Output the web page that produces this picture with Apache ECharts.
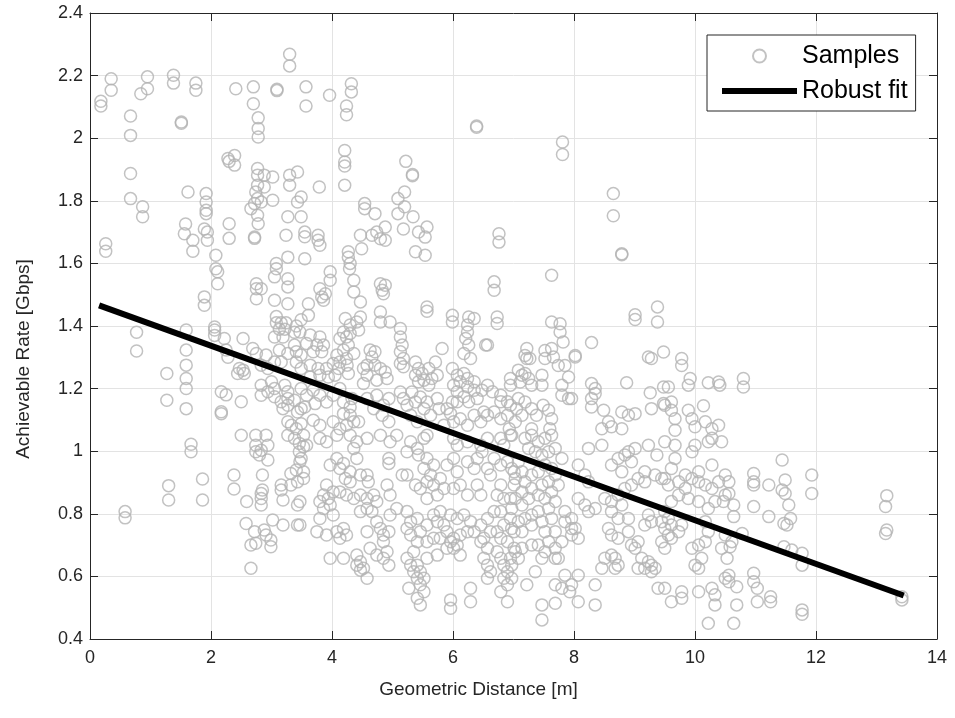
<!DOCTYPE html>
<html>
<head>
<meta charset="utf-8">
<script src="https://cdn.jsdelivr.net/npm/echarts@6/dist/echarts.min.js"></script>
<style>html,body{margin:0;padding:0;background:#fff}#chart{width:955px;height:718px}</style>
</head>
<body>
<div id="chart"></div>
<script>
// Samples: [distance (m), achievable rate (Gbps)]
const samples = [
[0.18,2.118],[0.18,2.103],[0.35,2.19],[0.35,2.153],[0.95,2.196],[0.95,2.158],[0.84,2.142],[1.38,2.201],[1.38,2.176],[1.75,2.176],[1.75,2.153],[0.67,2.071],[0.67,2.009],[1.51,2.052],[1.51,2.048],[2.41,2.158],[2.70,2.164],[2.70,2.11],[2.78,2.065],[2.78,2.031],[2.78,2.004],[3.09,2.156],[3.09,2.152],[3.30,2.268],[3.30,2.231],[3.57,2.164],[3.57,2.103],[0.67,1.887],[0.67,1.807],[0.87,1.781],[0.87,1.749],[1.62,1.828],[1.92,1.823],[1.92,1.796],[1.92,1.77],[1.92,1.759],[2.28,1.935],[2.39,1.945],[2.39,1.914],[2.30,1.926],
[2.77,1.903],[2.77,1.882],[2.88,1.882],[3.02,1.876],[2.77,1.85],[2.88,1.844],[2.74,1.828],[2.77,1.807],[2.72,1.791],[2.83,1.796],[3.02,1.802],[3.30,1.882],[3.30,1.85],[3.43,1.892],[3.43,1.796],[3.49,1.812],[3.27,1.749],[3.49,1.749],[2.66,1.775],[2.77,1.754],
[3.96,2.137],[4.32,2.174],[4.32,2.148],[4.24,2.103],[4.24,2.075],[6.39,2.039],[6.39,2.035],[4.21,1.961],[4.21,1.924],[4.21,1.911],[4.21,1.85],[5.22,1.926],[5.33,1.884],[5.33,1.88],[3.79,1.844],[4.54,1.791],[4.54,1.775],[4.71,1.759],[5.20,1.828],[5.09,1.807],[5.20,1.781],[5.09,1.759],[5.34,1.749],
[7.81,1.988],[7.81,1.948],[8.65,1.823],[8.65,1.752],
[1.56,1.695],[1.70,1.674],[1.70,1.639],[1.58,1.726],[1.89,1.71],[1.94,1.70],[1.94,1.674],[2.30,1.727],[2.30,1.68],[2.72,1.684],[2.72,1.68],[2.78,1.727],[3.24,1.69],[0.26,1.663],[0.26,1.639],[2.08,1.626],[2.08,1.583],[2.11,1.573],[2.11,1.535],[3.08,1.60],[3.08,1.583],[3.05,1.557],[3.27,1.62],[3.27,1.551],[3.27,1.525],[1.89,1.493],[1.89,1.466],[2.75,1.535],[2.75,1.519],[2.83,1.519],[2.75,1.487],[3.05,1.482],[3.27,1.471],
[3.08,1.43],[3.08,1.41],[3.16,1.41],[3.13,1.39],[3.22,1.39],[3.24,1.41],[3.05,1.365],[3.19,1.365],[3.38,1.38],[3.41,1.40],[3.49,1.42],
[2.06,1.397],[2.06,1.387],[2.06,1.37],[2.22,1.36],[2.53,1.36],[2.25,1.323],[2.28,1.30],
[1.59,1.387],[0.77,1.38],[0.77,1.32],
[1.59,1.323],[1.59,1.275],[1.59,1.232],[1.59,1.20],[1.59,1.136],[1.27,1.248],[1.27,1.163],
[2.17,1.19],[2.25,1.18],[2.5,1.158],[2.17,1.126],[2.17,1.12],
[2.47,1.264],[2.53,1.259],[2.55,1.248],[2.44,1.248],
[2.69,1.328],[2.75,1.312],[2.91,1.307],[2.83,1.275],[2.94,1.264],[3.05,1.285],[3.16,1.285],[3.13,1.323],[3.27,1.312],[3.38,1.339],[3.41,1.318],[3.41,1.285],[3.49,1.307],[3.49,1.264],
[2.83,1.211],[3.0,1.222],[3.05,1.20],[3.22,1.211],[3.27,1.19],[3.27,1.168],[3.27,1.147],[3.19,1.136],[3.05,1.174],[2.83,1.179],[2.94,1.19],[3.49,1.20],[3.38,1.163],[3.16,1.158],
[3.27,1.094],[3.33,1.083],[3.41,1.072],[3.49,1.088],[3.49,1.136],[3.43,1.125],
[3.55,1.70],[3.55,1.685],[3.77,1.69],[3.77,1.674],[3.80,1.658],[3.55,1.615],
[4.47,1.69],[4.66,1.69],[4.74,1.70],[4.80,1.679],[4.88,1.674],[4.88,1.716],[5.18,1.71],
[5.43,1.70],[5.54,1.684],[5.57,1.716],[5.38,1.637],[5.54,1.626],
[4.27,1.637],[4.27,1.62],[4.30,1.60],[4.29,1.583],[4.49,1.647],
[6.76,1.695],[6.76,1.668],[3.97,1.573],[3.97,1.546],
[3.80,1.519],[3.83,1.493],[3.89,1.503],[3.86,1.482],[3.61,1.471],[3.61,1.434],
[4.36,1.546],[4.36,1.509],[4.47,1.477],
[4.80,1.535],[4.83,1.514],[4.88,1.53],[4.85,1.503],
[6.68,1.541],[6.68,1.514],[5.57,1.461],[5.57,1.447],
[5.99,1.434],[5.99,1.413],[6.26,1.429],[6.35,1.424],[6.24,1.403],[6.73,1.429],[6.73,1.408],
[4.80,1.445],[4.80,1.413],[4.96,1.413],[5.13,1.392],[4.22,1.424],[4.30,1.403],[4.41,1.413],[4.47,1.429],[4.19,1.381],[4.30,1.376],[4.44,1.387],[4.24,1.365],
[3.47,1.381],[3.64,1.371],[3.80,1.365],[3.86,1.339],[3.75,1.339],[3.58,1.344],[3.69,1.318],[3.83,1.318],
[4.13,1.36],[4.27,1.339],[4.19,1.323],[4.36,1.312],[4.08,1.307],[4.24,1.296],
[5.13,1.365],[5.16,1.339],[5.13,1.318],[5.18,1.296],[5.13,1.28],
[4.63,1.323],[4.71,1.318],[4.66,1.301],[4.58,1.275],[4.71,1.275],[5.82,1.328],
[6.24,1.381],[6.21,1.36],[6.26,1.339],[6.18,1.312],[6.29,1.296],[6.54,1.339],[6.57,1.339],
[3.64,1.275],[3.77,1.264],[3.91,1.264],[4.02,1.28],[4.13,1.285],[4.11,1.264],[4.25,1.275],[3.94,1.237],[3.80,1.243],[3.64,1.237],[4.05,1.243],[4.27,1.248],
[4.52,1.264],[4.58,1.243],[4.80,1.264],[4.88,1.253],[4.74,1.227],[4.91,1.232],[4.52,1.216],[5.18,1.27],
[5.38,1.285],[5.43,1.264],[5.49,1.248],[5.60,1.264],[5.71,1.285],[5.38,1.243],[5.52,1.227],[5.65,1.232],[5.74,1.243],[5.60,1.211],[5.43,1.222],
[5.99,1.264],[6.07,1.243],[6.18,1.248],[6.24,1.232],[6.35,1.222],[6.12,1.222],[6.01,1.211],[6.24,1.206],[6.07,1.19],[6.35,1.195],[6.18,1.174],[6.26,1.158],[6.07,1.158],[6.40,1.168],
[6.95,1.232],[6.95,1.211],[6.79,1.179],[6.90,1.158],[6.65,1.19],[6.57,1.211],[6.48,1.195],[6.79,1.158],
[3.58,1.179],[3.69,1.195],[3.80,1.179],[3.72,1.152],[3.55,1.141],[3.91,1.157],[4.02,1.179],[4.13,1.20],[4.19,1.157],[4.30,1.141],[4.33,1.168],[4.19,1.12],[4.30,1.115],[4.36,1.094],[4.24,1.083],[4.44,1.094],[4.13,1.072],[4.02,1.094],[3.69,1.099],[3.80,1.083],[4.58,1.168],[4.74,1.179],[4.85,1.147],[4.94,1.168],[4.69,1.136],[4.83,1.115],[4.94,1.094],[5.13,1.189],[5.18,1.168],[5.24,1.147],[5.32,1.189],[5.38,1.157],[5.46,1.173],[5.57,1.157],[5.52,1.136],[5.30,1.115],[5.63,1.115],[5.41,1.094],[5.74,1.168],[5.77,1.136],[5.90,1.136],[5.99,1.157],[5.96,1.12],[6.01,1.094],[5.85,1.083],[6.12,1.104],[6.24,1.083],[6.35,1.115],[6.46,1.094],[6.51,1.125],[6.57,1.115],[6.68,1.125],[6.79,1.104],[6.95,1.147],[6.90,1.115],[6.93,1.072],
[8.79,1.631],[8.79,1.628],[7.63,1.562],[9.01,1.436],[9.01,1.421],[9.38,1.461],[9.38,1.413],[7.63,1.413],[7.77,1.407],[7.77,1.381],[7.82,1.349],[8.29,1.347],
[7.22,1.328],[7.19,1.306],[7.22,1.296],[7.27,1.296],[7.52,1.322],[7.63,1.328],[7.66,1.301],[7.52,1.296],[7.74,1.274],[7.85,1.274],[8.02,1.306],[8.02,1.301],
[9.23,1.301],[9.28,1.296],[9.48,1.317],[9.78,1.296],[9.78,1.274],
[7.08,1.259],[7.14,1.243],[7.19,1.248],[7.25,1.232],[7.11,1.221],[7.47,1.243],[7.30,1.211],[7.47,1.211],[7.80,1.211],[7.91,1.237],[7.80,1.179],[7.91,1.168],[7.96,1.168],[8.87,1.219],[8.29,1.216],[8.35,1.20],[8.35,1.184],[9.26,1.187],[9.48,1.205],[9.56,1.205],[9.48,1.152],[9.61,1.157],[9.92,1.232],[9.89,1.211],[10.22,1.219],[10.39,1.221],[10.41,1.211],[10.14,1.145],
[7.08,1.168],[7.19,1.157],[7.05,1.136],[7.14,1.115],[7.03,1.094],[7.30,1.136],[7.38,1.115],[7.49,1.147],[7.58,1.131],[7.63,1.104],[7.60,1.072],[7.30,1.072],[8.29,1.141],[8.49,1.131],[8.29,1.168],[8.79,1.125],[8.90,1.115],[9.01,1.120],[8.57,1.094],[8.62,1.078],[8.46,1.072],[8.79,1.072],[9.28,1.136],[9.50,1.147],[9.61,1.131],[9.67,1.104],[9.67,1.067],[9.89,1.131],[9.95,1.104],[10.0,1.078],[10.17,1.094],[10.28,1.072],[10.39,1.083],
[10.80,1.232],[10.80,1.205],
[1.67,1.022],[1.67,0.998],[1.30,0.890],[1.30,0.844],[1.86,0.911],[1.86,0.844],[0.58,0.807],[0.58,0.787],[2.38,0.924],[2.38,0.879],[2.59,0.839],[2.85,0.924],[2.83,0.865],[2.85,0.876],[2.83,0.849],[2.83,0.828],
[3.16,0.892],[3.16,0.876],[3.19,0.844],[3.32,0.892],[3.32,0.929],[3.41,0.940],[3.43,0.902],[3.43,0.828],
[2.50,1.051],[2.74,1.051],[2.91,1.051],[2.74,1.019],[2.74,0.998],[2.80,0.988],[2.94,1.019],[2.94,0.972],[2.83,1.003],
[3.27,1.051],[3.38,1.041],[3.46,1.025],[3.46,0.998],[3.49,0.977],
[2.58,0.769],[2.72,0.743],[2.88,0.748],[2.91,0.732],[3.02,0.780],[3.19,0.764],[2.66,0.700],[2.74,0.706],[2.99,0.716],[2.99,0.695],[3.43,0.764],[2.66,0.626],
[3.53,1.051],[3.53,1.014],[3.47,0.966],[3.53,0.934],[3.53,0.913],[3.47,0.839],[3.47,0.764],
[3.58,1.019],[3.80,1.041],[3.91,1.030],[4.08,1.051],[4.30,1.051],[4.41,1.030],[4.58,1.041],[4.36,1.009],[4.80,1.051],[4.96,1.030],[5.07,1.051],[5.30,1.030],[5.41,1.009],[5.52,1.041],[5.57,1.051],[5.24,0.998],[6.01,1.041],[6.07,1.019],[6.24,1.030],[6.46,1.019],[6.57,1.041],[6.79,1.041],[6.84,1.019],[6.95,1.051],
[3.97,0.956],[4.08,0.977],[4.13,0.945],[4.19,0.961],[4.30,0.934],[4.22,0.913],[4.41,0.977],[4.47,0.924],[4.58,0.924],[4.60,0.902],[4.30,0.902],[3.91,0.892],[3.86,0.860],[3.94,0.849],[4.02,0.870],[4.13,0.870],[4.24,0.860],[4.36,0.849],[4.47,0.860],[4.58,0.849],[4.69,0.860],[4.74,0.839],[4.91,0.892],[4.96,0.860],[4.94,0.977],[4.94,0.961],[5.16,0.924],[5.24,0.924],[5.38,0.892],[5.46,0.881],[5.57,0.902],[5.68,0.892],[5.52,0.945],[5.63,0.924],[5.79,0.913],[5.43,0.988],[5.57,0.977],[5.68,0.956],[5.90,0.956],[6.01,0.977],[6.07,0.934],[6.24,0.966],[6.35,0.945],[6.40,0.977],[6.48,0.998],[6.68,0.977],[6.57,0.945],[6.62,0.924],[6.79,0.956],[6.90,0.966],[7.01,0.934],[7.01,0.892],[6.79,0.892],[6.73,0.860],[6.84,0.849],[6.95,0.849],[6.01,0.881],[6.12,0.892],[6.24,0.860],[6.40,0.892],[6.46,0.860],[5.85,0.881],[5.74,0.860],[5.57,0.849],
[3.80,0.839],[3.86,0.817],[3.97,0.828],[4.02,0.796],[3.80,0.785],[3.75,0.743],[3.91,0.732],[4.08,0.743],[4.19,0.753],[4.13,0.722],[4.24,0.732],[4.47,0.807],[4.58,0.817],[4.66,0.807],[4.74,0.775],[4.58,0.743],[4.80,0.753],[4.85,0.732],[4.94,0.743],[4.96,0.796],[5.07,0.817],[5.24,0.807],[5.30,0.775],[5.24,0.753],[5.30,0.732],[5.41,0.785],[5.46,0.743],[5.57,0.764],[5.68,0.796],[5.79,0.807],[5.74,0.775],[5.85,0.764],[5.90,0.743],[5.79,0.722],[5.68,0.722],[5.57,0.711],[5.41,0.711],[5.96,0.796],[6.07,0.785],[6.18,0.796],[6.29,0.775],[6.24,0.743],[6.12,0.732],[6.01,0.722],[6.35,0.743],[6.46,0.764],[6.57,0.785],[6.62,0.743],[6.51,0.722],[6.73,0.743],[6.84,0.764],[6.95,0.785],[7.01,0.743],[6.79,0.722],[6.90,0.711],[6.68,0.807],[6.79,0.807],
[3.97,0.658],[4.19,0.658],[4.41,0.668],[4.47,0.647],[4.52,0.626],[4.58,0.594],[4.63,0.690],[4.74,0.668],[4.85,0.711],[4.85,0.658],[4.94,0.636],[4.91,0.679],[4.41,0.636],[4.47,0.62],[5.24,0.658],[5.35,0.679],[5.41,0.636],[5.30,0.636],[5.35,0.615],[5.46,0.615],[5.41,0.594],[5.52,0.594],[5.46,0.573],[5.52,0.551],[5.41,0.530],[5.46,0.509],[5.27,0.562],[5.57,0.658],[5.74,0.668],[5.90,0.690],[6.01,0.690],[6.07,0.700],[5.96,0.711],[6.46,0.711],[6.57,0.690],[6.51,0.658],[6.57,0.636],[6.62,0.615],[6.57,0.594],[6.73,0.679],[6.79,0.658],[6.84,0.636],[6.90,0.615],[6.84,0.594],[6.90,0.573],[6.79,0.551],[6.90,0.519],[6.95,0.658],[7.01,0.690],[6.29,0.562],[6.29,0.519],[5.96,0.525],[5.96,0.498],[6.12,0.668],
[6.97,1.051],[7.19,1.041],[7.30,1.051],[7.41,1.030],[7.52,1.041],[7.63,1.051],[7.25,1.009],[7.36,0.998],[7.47,0.988],[7.58,0.998],[7.69,1.009],[7.80,0.977],[7.08,0.966],[6.97,0.945],[7.14,0.934],[7.03,0.913],[7.19,0.902],[7.30,0.924],[7.41,0.934],[7.52,0.956],[7.63,0.945],[7.69,0.924],[7.58,0.902],[7.47,0.892],[7.30,0.881],[7.14,0.870],[7.03,0.849],[6.97,0.817],[7.14,0.828],[7.25,0.849],[7.41,0.860],[7.52,0.849],[7.63,0.870],[7.74,0.892],[7.69,0.839],[7.58,0.817],[7.41,0.807],[7.30,0.796],[7.19,0.785],[7.08,0.775],[6.97,0.753],[7.14,0.743],[7.30,0.764],[7.47,0.775],[7.63,0.785],[7.52,0.743],[7.69,0.743],[7.85,0.807],[7.85,0.775],[7.96,0.753],[7.96,0.732],[7.80,0.711],[7.58,0.711],[7.41,0.700],[7.30,0.700],[7.14,0.690],[7.03,0.679],[7.08,0.658],[7.52,0.679],[7.47,0.658],[7.69,0.658],[7.69,0.690],[7.74,0.658],[7.36,0.615],[7.69,0.573],[7.85,0.604],[7.96,0.573],[8.07,0.604],[7.80,0.562],[7.93,0.551],[8.07,0.519],[8.35,0.573],[8.35,0.509],[7.47,0.509],[7.69,0.514],[7.22,0.573],[7.47,0.461],[6.97,0.636],[6.97,0.594],
[8.24,1.009],[8.46,1.019],[8.62,0.956],[8.73,0.977],[8.79,0.934],[8.84,0.988],[8.90,0.998],[8.95,0.966],[9.06,0.913],[9.17,0.934],[9.23,1.019],[9.37,0.988],[9.01,1.009],[8.07,0.956],[8.18,0.924],[8.24,0.902],[8.07,0.849],[8.18,0.828],[8.24,0.807],[8.35,0.817],[8.51,0.849],[8.62,0.839],[8.73,0.860],[8.84,0.881],[8.95,0.892],[9.17,0.902],[9.34,0.924],[9.45,0.913],[8.62,0.807],[8.73,0.785],[8.79,0.828],[8.90,0.785],[8.57,0.753],[8.62,0.732],[8.73,0.722],[8.90,0.743],[8.95,0.700],[9.01,0.690],[9.06,0.711],[9.17,0.764],[9.23,0.796],[9.28,0.775],[9.12,0.658],[9.23,0.647],[9.17,0.626],[9.28,0.615],[9.06,0.626],[8.62,0.668],[8.68,0.658],[8.73,0.636],[8.46,0.626],[8.68,0.626],[8.51,0.658],[7.96,0.785],[8.02,0.753],[8.07,0.722],
[9.50,1.030],[9.67,1.019],[9.67,0.977],[9.95,0.998],[10.0,1.019],[10.22,1.030],[10.28,1.041],[10.44,1.030],[10.28,0.956],[10.06,0.934],[9.84,0.924],[9.61,0.945],[9.50,0.913],[9.56,0.892],[9.73,0.902],[9.84,0.881],[9.95,0.913],[10.06,0.902],[10.17,0.892],[10.28,0.881],[10.39,0.902],[10.50,0.924],[10.50,0.860],[10.33,0.839],[10.22,0.817],[10.06,0.839],[9.89,0.849],[9.73,0.860],[9.61,0.839],[9.50,0.807],[9.45,0.775],[9.50,0.753],[9.56,0.732],[9.45,0.711],[9.50,0.690],[9.61,0.722],[9.73,0.743],[9.78,0.764],[9.61,0.764],[9.56,0.785],[9.95,0.690],[10.06,0.700],[10.11,0.658],[10.06,0.626],[10.0,0.636],[10.17,0.711],[10.22,0.743],[10.17,0.775],[10.44,0.690],[10.50,0.732],[10.28,0.562],[10.33,0.541],[10.33,0.509],[10.22,0.450],[10.06,0.551],[10.50,0.594],[9.50,0.562],[9.61,0.519],[9.78,0.551],[9.78,0.530],[9.39,0.562],[9.34,0.626],[9.28,0.636],
[11.44,0.972],[10.97,0.929],[10.97,0.902],[10.97,0.892],[10.56,0.902],[10.56,0.865],[11.22,0.892],[11.49,0.908],[11.44,0.876],[11.49,0.865],[11.55,0.828],[11.93,0.924],[11.93,0.865],
[10.64,0.828],[10.47,0.839],[10.64,0.791],[10.97,0.823],[11.22,0.791],[11.47,0.769],[11.52,0.764],[11.58,0.785],
[10.78,0.737],[10.61,0.711],[10.58,0.695],[10.53,0.658],[11.47,0.695],[11.60,0.684],[11.77,0.674],[11.77,0.636],
[10.56,0.604],[10.56,0.583],[10.69,0.567],[10.97,0.610],[10.97,0.583],[11.03,0.562],[11.03,0.519],[11.25,0.535],[11.25,0.519],[10.69,0.509],[10.64,0.450],[11.77,0.493],[11.77,0.479],
[13.17,0.858],[13.15,0.823],[13.17,0.748],[13.15,0.737],[13.42,0.535],[13.42,0.525]
];

// Robust fit line end points
const fitDistance = [0.15, 13.45];
const fitRate = [1.466, 0.539];

const xTicks = { min: 0, max: 14, step: 2 };
const yTicks = { min: 0.4, max: 2.4, step: 0.2 };

const FONT = "'Liberation Sans', Arial, Helvetica, sans-serif";
const AXIS = '#262626';
const GRID = '#e3e3e3';

const chart = echarts.init(document.getElementById('chart'), null, { renderer: 'canvas' });

const baseX = {
  type: 'value', min: xTicks.min, max: xTicks.max, interval: xTicks.step,
  axisLine: { show: true, onZero: false, lineStyle: { color: AXIS, width: 1 } },
  axisTick: { show: true, inside: true, length: 8, lineStyle: { color: AXIS } }
};
const baseY = {
  type: 'value', min: yTicks.min, max: yTicks.max, interval: yTicks.step,
  axisLine: { show: true, onZero: false, lineStyle: { color: AXIS, width: 1 } },
  axisTick: { show: true, inside: true, length: 8, lineStyle: { color: AXIS } }
};

chart.setOption({
  animation: false,
  backgroundColor: '#fff',
  grid: { left: 90, right: 18, top: 13, bottom: 79 },
  xAxis: [
    Object.assign({}, baseX, {
      position: 'bottom',
      splitLine: { show: true, lineStyle: { color: GRID, width: 1 } },
      axisLabel: { color: AXIS, fontSize: 18, fontFamily: FONT, margin: 10 },
      name: 'Geometric Distance [m]', nameLocation: 'middle', nameGap: 41,
      nameTextStyle: { color: AXIS, fontSize: 19, fontFamily: FONT, padding: [0, 70, 0, 0] }
    }),
    Object.assign({}, baseX, {
      position: 'top', splitLine: { show: false }, axisLabel: { show: false }
    })
  ],
  yAxis: [
    Object.assign({}, baseY, {
      position: 'left',
      splitLine: { show: true, lineStyle: { color: GRID, width: 1 } },
      axisLabel: { color: AXIS, fontSize: 18, fontFamily: FONT, margin: 7 },
      name: 'Achievable Rate [Gbps]', nameLocation: 'middle', nameGap: 57, nameRotate: 90,
      nameTextStyle: { color: AXIS, fontSize: 19, fontFamily: FONT, padding: [0, 66, 0, 0] }
    }),
    Object.assign({}, baseY, {
      position: 'right', splitLine: { show: false }, axisLabel: { show: false }
    })
  ],
  legend: {
    orient: 'vertical', left: 707, top: 35,
    padding: [7, 8, 6, 12], itemGap: 7, itemWidth: 75, itemHeight: 13,
    borderColor: AXIS, borderWidth: 1, backgroundColor: '#fff',
    textStyle: { fontSize: 25, fontFamily: FONT, color: '#000', lineHeight: 28 },
    lineStyle: { width: 6 },
    data: [
      { name: 'Samples' },
      { name: 'Robust fit', itemStyle: { opacity: 0 } }
    ]
  },
  series: [
    {
      name: 'Samples', type: 'scatter', data: samples,
      symbol: 'circle', symbolSize: 12,
      itemStyle: { color: 'rgba(0,0,0,0)', borderColor: '#b3b3b3', borderWidth: 1.5 },
      emphasis: { disabled: true }, silent: true, z: 2
    },
    {
      name: 'Robust fit', type: 'line',
      data: fitDistance.map((d, i) => [d, fitRate[i]]),
      symbol: 'none', showSymbol: false,
      lineStyle: { color: '#000', width: 6 },
      itemStyle: { color: '#000' },
      emphasis: { disabled: true }, silent: true, z: 3
    }
  ]
});
</script>
</body>
</html>
